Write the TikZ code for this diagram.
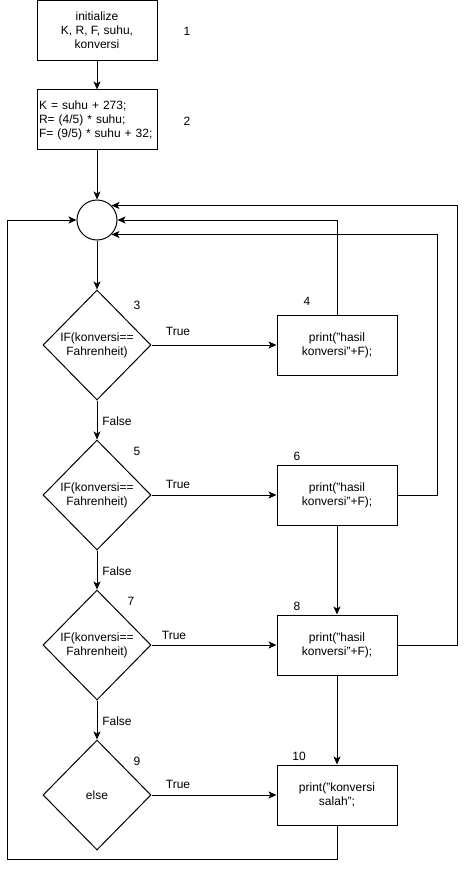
\documentclass[tikz,border=0pt]{standalone}
\usepackage{fontspec}
\setmainfont{Liberation Sans}
\usetikzlibrary{shapes.geometric,arrows.meta}
\begin{document}
\begin{tikzpicture}[x=1pt,y=-1pt,
  every node/.style={font=\fontsize{12}{14}\selectfont},
  proc/.style={draw,line width=1pt,minimum width=120pt,minimum height=60pt,inner sep=0pt,align=center},
  decide/.style={draw,line width=1pt,diamond,minimum width=108pt,minimum height=110pt,inner sep=0pt,align=center},
  joint/.style={draw,line width=1pt,circle,minimum size=40pt,inner sep=0pt},
  tag/.style={inner sep=0pt},
  arr/.style={line width=1pt,-{Stealth[length=8pt,width=7pt,inset=2pt]}},
  wire/.style={line width=1pt}]
\useasboundingbox (0,0) rectangle (466,869);

% main column
\node[proc] (init) at (97,30.5) {initialize\\K, R, F, suhu,\\konversi};
\node[proc,align=left,text width=116pt,inner xsep=2pt] (calc) at (97,120)
  {K = suhu + 273;\\R= (4/5) * suhu;\\F= (9/5) * suhu + 32;};
\node[joint] (join) at (97,220) {};
\node[decide] (d1) at (97,345) {IF(konversi==\\Fahrenheit)};
\node[decide] (d2) at (97,495) {IF(konversi==\\Fahrenheit)};
\node[decide] (d3) at (97,645) {IF(konversi==\\Fahrenheit)};
\node[decide] (d4) at (97,795) {else};

% output boxes
\node[proc] (p4) at (337,345) {print("hasil\\konversi"+F);};
\node[proc] (p6) at (337,495) {print("hasil\\konversi"+F);};
\node[proc] (p8) at (337,645) {print("hasil\\konversi"+F);};
\node[proc] (p10) at (337,795) {print("konversi\\salah";};

% step numbers
\node[tag] (n1) at (187,31) {1};
\node[tag] (n2) at (187,121) {2};
\node[tag] (n3) at (137,305) {3};
\node[tag] (n4) at (307,301) {4};
\node[tag] (n5) at (137,451) {5};
\node[tag] (n6) at (297,456) {6};
\node[tag] (n7) at (131,601) {7};
\node[tag] (n8) at (297,606) {8};
\node[tag] (n9) at (137,761) {9};
\node[tag] (n10) at (299,756) {10};

% branch labels
\node[tag] (t1) at (178,331) {True};
\node[tag] (t2) at (178,484) {True};
\node[tag] (t3) at (174,635) {True};
\node[tag] (t4) at (178,784) {True};
\node[tag] (f1) at (117,421) {False};
\node[tag] (f2) at (117,571) {False};
\node[tag] (f3) at (117,721) {False};

% routing points for the loop-back lines
\coordinate (r1) at (437,0);
\coordinate (r2) at (457,0);
\coordinate (l1) at (7,0);
\coordinate (bot) at (0,859);

% forward flow
\draw[arr] (init) -- (calc);
\draw[arr] (calc) -- (join);
\draw[arr] (join) -- (d1);
\draw[arr] (d1) -- (p4);
\draw[arr] (d1) -- (d2);
\draw[arr] (d2) -- (p6);
\draw[arr] (d2) -- (d3);
\draw[arr] (d3) -- (p8);
\draw[arr] (d3) -- (d4);
\draw[arr] (d4) -- (p10);
\draw[arr] (p6) -- (p8);
\draw[arr] (p8) -- (p10);

% loop-back lines
\draw[arr] (p4.north) |- (join.east);
\draw[arr] (p6.east) -- (p6.east -| r1) -- (r1 |- join.-45) -- (join.-45);
\draw[arr] (p8.east) -- (p8.east -| r2) -- (r2 |- join.45) -- (join.45);
\draw[arr] (p10.south) -- (p10.south |- bot) -- (l1 |- bot) -- (l1 |- join.west) -- (join.west);
\end{tikzpicture}
\end{document}
